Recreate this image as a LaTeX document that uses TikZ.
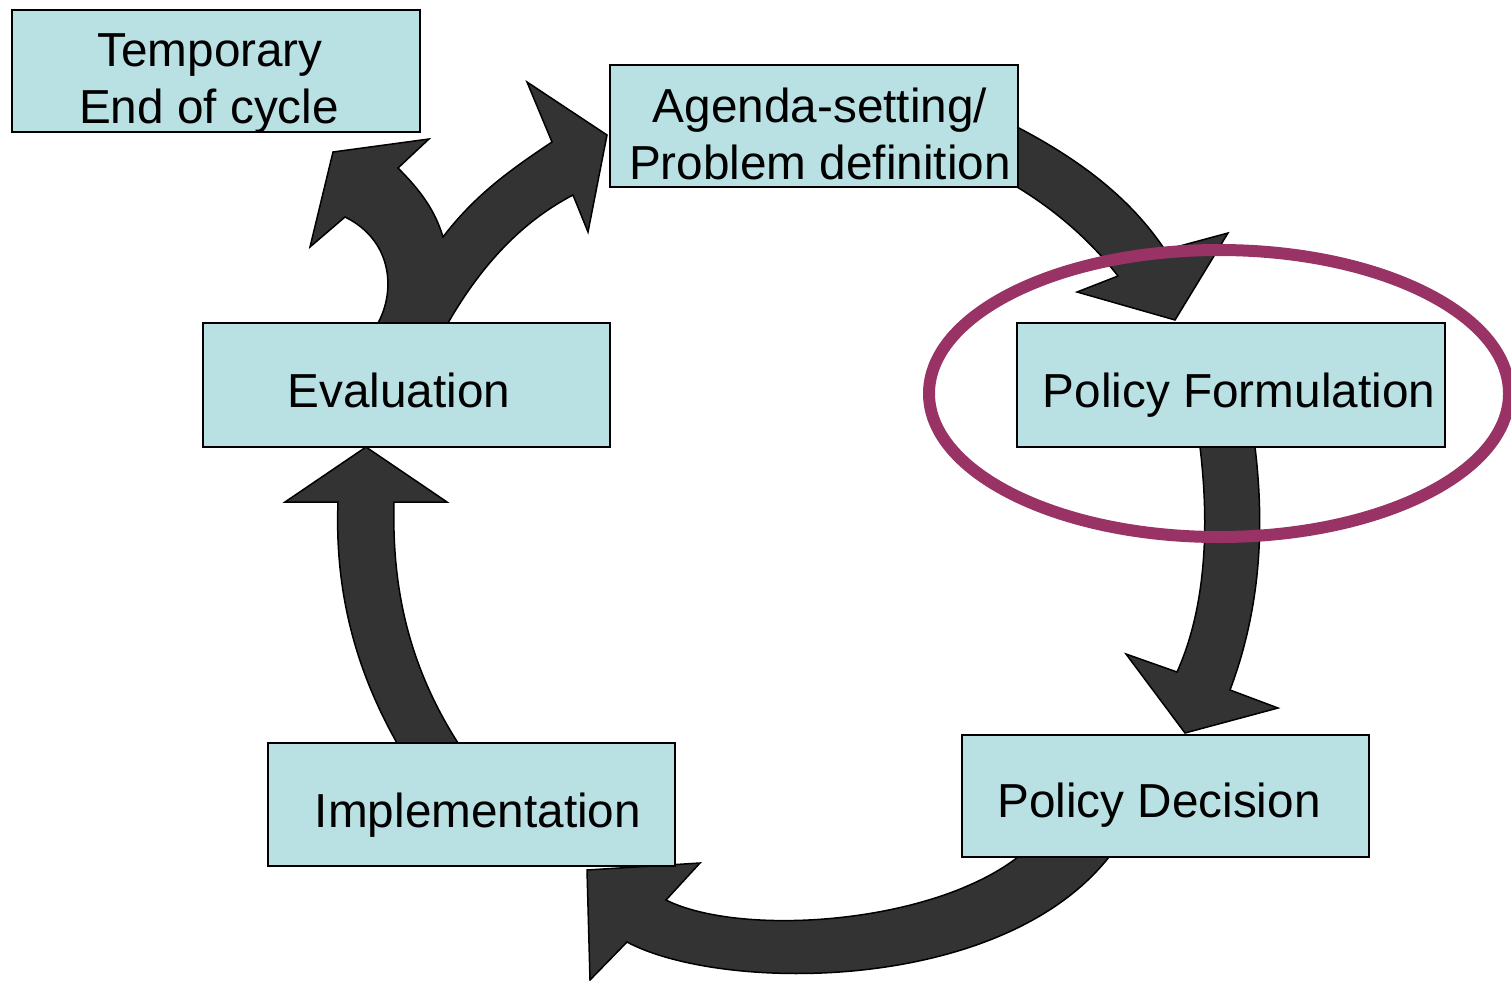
\documentclass[tikz,border=0pt]{standalone}
\usepackage{fontspec}
\setmainfont{Liberation Sans}
\definecolor{boxfill}{RGB}{185,224,227}
\definecolor{arrowfill}{RGB}{51,51,51}
\definecolor{ringcol}{RGB}{153,51,102}
\begin{document}
\begin{tikzpicture}[x=1pt,y=-1pt,
  stagebox/.style={draw=black, line width=2pt, fill=boxfill, inner sep=0pt, outer sep=0pt, anchor=north west},
  lbl/.style={anchor=base, inner sep=0pt, font=\fontsize{47.7}{57}\selectfont},
  blockarrow/.style={fill=arrowfill, draw=black, line width=1.5pt, line join=miter}]
\useasboundingbox (0,0) rectangle (1511,980);
\fill[white] (0,0) rectangle (1511,980);

% block arrows
\draw[blockarrow] (1017,127) .. controls (1090,165) and (1135,205) .. (1165,250)
  -- (1228,233) -- (1175,320) -- (1077,292) -- (1118,276)
  .. controls (1090,240) and (1055,210) .. (1017,187) -- cycle;
\draw[blockarrow] (1200,447) .. controls (1210,530) and (1205,610) .. (1177,672)
  -- (1126,654) -- (1185,733) -- (1278,708) -- (1230,690)
  .. controls (1260,610) and (1265,530) .. (1255,447) -- cycle;
\draw[blockarrow] (1018,857) .. controls (930,925) and (740,937) .. (666,900)
  -- (700,863) -- (587,870) -- (590,980) -- (627,942)
  .. controls (720,992) and (1000,995) .. (1109,857) -- cycle;
\draw[blockarrow] (397,743) .. controls (350,660) and (335,580) .. (338,502)
  -- (285,502) -- (366,447) -- (447,502) -- (394,502)
  .. controls (392,580) and (405,660) .. (458,743) -- cycle;
\draw[blockarrow] (378,323) .. controls (396,290) and (392,240) .. (345,217)
  -- (310,247) -- (333,152) -- (429,139) -- (398,168)
  .. controls (420,190) and (435,210) .. (443,237)
  .. controls (475,195) and (510,170) .. (552,142)
  -- (527,82) -- (607,135) -- (588,232) -- (573,195)
  .. controls (535,215) and (490,250) .. (448,323) -- cycle;

% boxes
\node[stagebox, minimum width=408pt, minimum height=122pt] (tmp) at (12,10) {};
\node[stagebox, minimum width=408pt, minimum height=122pt] (agenda) at (610,65) {};
\node[stagebox, minimum width=407pt, minimum height=124pt] (eval) at (203,323) {};
\node[stagebox, minimum width=428pt, minimum height=124pt] (form) at (1017,323) {};
\node[stagebox, minimum width=407pt, minimum height=123pt] (impl) at (268,743) {};
\node[stagebox, minimum width=407pt, minimum height=122pt] (dec) at (962,735) {};

% labels
\node[lbl] (tmpa) at (210,66) {Temporary};
\node[lbl] (tmpb) at (209,123) {End of cycle};
\node[lbl] (agendaa) at (820,122) {Agenda-setting/};
\node[lbl] (agendab) at (820,179) {Problem definition};
\node[lbl] (evall) at (399,407) {Evaluation};
\node[lbl] (forml) at (1239,407) {Policy Formulation};
\node[lbl] (impll) at (478,827) {Implementation};
\node[lbl] (decl) at (1159,817) {Policy Decision};

% highlight ring
\draw[ringcol, line width=12pt] (1219,393.5) ellipse [x radius=290, y radius=143.5];
\end{tikzpicture}
\end{document}
